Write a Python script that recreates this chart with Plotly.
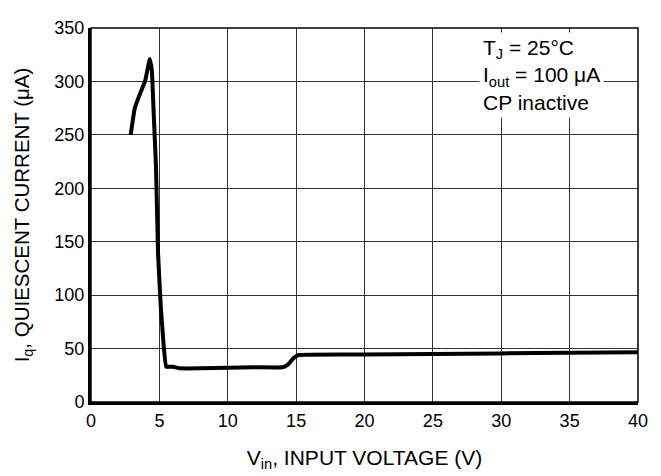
import plotly.graph_objects as go

vin = [2.9, 3.2, 3.6, 3.95, 4.3, 4.45, 4.6, 4.75, 4.9, 5.1, 5.3, 5.5, 5.8, 6.0, 6.5, 8.0, 10.0, 12.0, 14.0, 14.4, 14.8, 15.2, 20.0, 25.0, 30.0, 35.0, 40.0]
iq = [250, 275, 289, 300, 321, 310, 265, 221, 140, 90, 55, 33, 33, 33, 31.5, 31.5, 32, 32.5, 32.5, 35, 41, 44, 44.5, 45, 45.5, 46, 46.5]

x_ticks = [0, 5, 10, 15, 20, 25, 30, 35, 40]
y_ticks = [0, 50, 100, 150, 200, 250, 300, 350]

font = "Liberation Sans, Arial, Helvetica, sans-serif"

fig = go.Figure()
fig.add_trace(go.Scatter(x=vin, y=iq, mode="lines",
                         line=dict(color="black", width=4, shape="spline", smoothing=0.3),
                         showlegend=False, hoverinfo="skip"))

fig.update_layout(
    width=653, height=468,
    margin=dict(l=83, r=23, t=10, b=73),
    paper_bgcolor="white", plot_bgcolor="white",
    font=dict(family=font, size=18, color="black"),
    xaxis=dict(range=[0, 40], tickvals=x_ticks, showgrid=True, gridcolor="#333333", gridwidth=1,
               showline=True, linecolor="black", linewidth=3, zeroline=False,
               ticks="", ticklen=0, tickfont=dict(size=18),
               title=dict(text="V<sub>in</sub>, INPUT VOLTAGE (V)", font=dict(size=21), standoff=21)),
    yaxis=dict(range=[0, 350], tickvals=y_ticks, showgrid=True, gridcolor="#333333", gridwidth=1,
               showline=True, linecolor="black", linewidth=3, zeroline=False,
               ticks="", ticklen=0, tickfont=dict(size=18),
               title=dict(text="I<sub>q</sub>, QUIESCENT CURRENT (\u03bcA)", font=dict(size=20.5), standoff=20)),
    shapes=[dict(type="rect", xref="paper", yref="paper", x0=0, x1=1, y0=0, y1=1,
                 line=dict(color="black", width=1.5), fillcolor="rgba(0,0,0,0)", layer="above")],
    annotations=[dict(xref="paper", yref="paper", x=0.709, y=0.99, xanchor="left", yanchor="top",
                      align="left", showarrow=False, bgcolor="white", borderpad=3,
                      font=dict(size=21),
                      text="T<sub>J</sub> = 25\u00b0C<br>I<sub>out</sub> = 100 \u03bcA<br>CP inactive")],
)

fig.write_html("out.html")
